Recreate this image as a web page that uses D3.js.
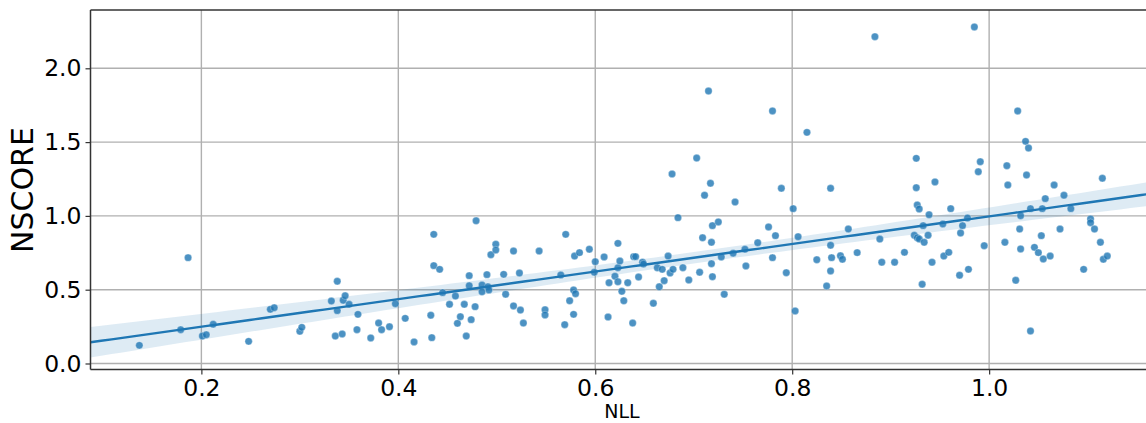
<!DOCTYPE html>
<html>
<head>
<meta charset="utf-8">
<script src="https://cdn.jsdelivr.net/npm/d3@7"></script>
<style>
  body { margin: 0; background: #fff; }
  svg { display: block; font-family: "DejaVu Sans", sans-serif; }
</style>
</head>
<body>
<div id="chart"></div>
<script>
// data
const nll = [
  0.137, 0.1865, 0.179, 0.201, 0.205, 0.212, 0.248, 0.270, 0.274, 0.300,
  0.302, 0.338, 0.332, 0.344, 0.346, 0.338, 0.350, 0.359, 0.336, 0.343,
  0.358, 0.372, 0.380, 0.383, 0.391, 0.397, 0.407, 0.416, 0.436, 0.436,
  0.442, 0.433, 0.434, 0.445, 0.452, 0.458, 0.460, 0.463, 0.467, 0.469,
  0.474, 0.472, 0.472, 0.479, 0.478, 0.485, 0.485, 0.490, 0.491, 0.492,
  0.494, 0.499, 0.499, 0.509, 0.507, 0.517, 0.517, 0.523, 0.524, 0.527,
  0.543, 0.549, 0.549, 0.565, 0.570, 0.569, 0.574, 0.578, 0.580, 0.578,
  0.579, 0.584, 0.594, 0.600, 0.599, 0.609, 0.613, 0.614, 0.620, 0.623,
  0.623, 0.623, 0.625, 0.627, 0.629, 0.633, 0.638, 0.639, 0.641, 0.648,
  0.649, 0.644, 0.659, 0.663, 0.668, 0.665, 0.670, 0.674, 0.676, 0.679,
  0.684, 0.678, 0.715, 0.780, 0.815, 0.703, 0.717, 0.789, 0.839, 0.926,
  0.926, 0.945, 0.884, 0.711, 0.689, 0.695, 0.706, 0.709, 0.718, 0.719,
  0.725, 0.728, 0.718, 0.719, 0.731, 0.740, 0.742, 0.752, 0.753, 0.765,
  0.776, 0.780, 0.783, 0.794, 0.801, 0.803, 0.806, 0.825, 0.835, 0.839,
  0.839, 0.840, 0.849, 0.851, 0.857, 0.866, 0.889, 0.891, 0.904, 0.914,
  0.927, 0.929, 0.939, 0.961, 0.953, 0.933, 0.924, 0.927, 0.929, 0.934,
  0.938, 0.942, 0.932, 0.954, 0.959, 0.970, 0.971, 0.973, 0.978, 0.979,
  0.985, 1.029, 1.037, 1.040, 0.991, 0.989, 1.018, 1.038, 1.019, 1.066,
  1.115, 0.995, 1.016, 1.027, 1.031, 1.032, 1.032, 1.042, 1.042, 1.046,
  1.050, 1.053, 1.054, 1.055, 1.057, 1.062, 1.072, 1.076, 1.083, 1.096,
  1.103, 1.103, 1.107, 1.113, 1.116, 1.120
];
const nscore = [
  0.123, 0.717, 0.229, 0.186, 0.195, 0.266, 0.150, 0.367, 0.378, 0.218,
  0.245, 0.557, 0.423, 0.428, 0.459, 0.358, 0.401, 0.333, 0.186, 0.200,
  0.229, 0.173, 0.274, 0.229, 0.249, 0.405, 0.306, 0.146, 0.875, 0.663,
  0.638, 0.327, 0.175, 0.480, 0.401, 0.457, 0.272, 0.317, 0.401, 0.186,
  0.297, 0.595, 0.527, 0.967, 0.385, 0.532, 0.486, 0.602, 0.520, 0.498,
  0.737, 0.808, 0.769, 0.469, 0.604, 0.762, 0.390, 0.613, 0.362, 0.274,
  0.762, 0.364, 0.329, 0.600, 0.875, 0.263, 0.425, 0.498, 0.473, 0.333,
  0.728, 0.751, 0.774, 0.690, 0.618, 0.722, 0.315, 0.547, 0.591, 0.814,
  0.649, 0.554, 0.694, 0.489, 0.425, 0.547, 0.274, 0.724, 0.724, 0.686,
  0.674, 0.586, 0.408, 0.649, 0.638, 0.520, 0.561, 0.728, 0.613, 0.638,
  0.988, 1.284, 1.846, 1.711, 1.566, 1.392, 1.221, 1.187, 1.187, 1.390,
  1.191, 1.230, 2.214, 1.140, 0.649, 0.566, 0.618, 0.852, 0.821, 0.934,
  0.959, 0.722, 0.676, 0.588, 0.469, 0.747, 1.094, 0.774, 0.661, 0.818,
  0.925, 0.717, 0.866, 0.615, 1.049, 0.356, 0.859, 0.703, 0.525, 0.627,
  0.801, 0.717, 0.730, 0.706, 0.911, 0.751, 0.843, 0.686, 0.686, 0.753,
  1.074, 1.047, 1.008, 1.049, 0.945, 0.934, 0.869, 0.852, 0.843, 0.821,
  0.869, 0.686, 0.537, 0.728, 0.753, 0.598, 0.884, 0.934, 0.986, 0.638,
  2.280, 1.711, 1.505, 1.460, 1.367, 1.299, 1.340, 1.277, 1.209, 1.209,
  1.255, 0.798, 0.821, 0.564, 0.911, 1.001, 0.776, 1.049, 0.220, 0.787,
  0.751, 0.866, 1.049, 0.708, 1.117, 0.728, 0.911, 1.140, 1.049, 0.638,
  0.979, 0.954, 0.911, 0.821, 0.706, 0.728
];
const xTicks = [0.2, 0.4, 0.6, 0.8, 1.0];
const yTicks = [0.0, 0.5, 1.0, 1.5, 2.0];

const W = 1146, H = 423;
const m = {left: 90.5, top: 10, bottom: 369.5, right: 1152};
const blue = "#1f77b4";

const svg = d3.select("#chart").append("svg")
  .attr("width", W).attr("height", H);

const x = d3.scaleLinear().domain([0.0874, 1.1654]).range([m.left, m.right]);
const y = d3.scaleLinear().domain([-0.0407, 2.395]).range([m.bottom, m.top]);

// grid
svg.append("g").selectAll("line").data(xTicks).join("line")
  .attr("x1", d => x(d)).attr("x2", d => x(d))
  .attr("y1", m.top).attr("y2", m.bottom)
  .attr("stroke", "#b0b0b0").attr("stroke-width", 1.4);
svg.append("g").selectAll("line").data(yTicks).join("line")
  .attr("x1", m.left).attr("x2", m.right)
  .attr("y1", d => y(d)).attr("y2", d => y(d))
  .attr("stroke", "#b0b0b0").attr("stroke-width", 1.4);

// regression fit + 95% CI (analytic)
const pts = nll.map((v, i) => ({x: v, y: nscore[i]}));
const n = pts.length;
const mx = d3.mean(nll), my = d3.mean(nscore);
const sxx = d3.sum(nll, v => (v - mx) ** 2);
const sxy = d3.sum(pts, p => (p.x - mx) * (p.y - my));
const slope = sxy / sxx, icpt = my - slope * mx;
const s = Math.sqrt(d3.sum(pts, p => (p.y - icpt - slope * p.x) ** 2) / (n - 2));
const xs = d3.range(0, 101).map(i => x.domain()[0] + (x.domain()[1] - x.domain()[0]) * i / 100);
const band = xs.map(g => {
  const f = icpt + slope * g;
  const e = 1.972 * s * Math.sqrt(1 / n + (g - mx) ** 2 / sxx);
  return {x: g, lo: f - e, hi: f + e, f};
});

const plot = svg.append("g");
plot.append("path").datum(band)
  .attr("fill", blue).attr("fill-opacity", 0.15)
  .attr("d", d3.area().x(d => x(d.x)).y0(d => y(d.lo)).y1(d => y(d.hi)));

plot.selectAll("circle").data(pts).join("circle")
  .attr("cx", d => x(d.x)).attr("cy", d => y(d.y))
  .attr("r", 3.7)
  .attr("fill", blue).attr("fill-opacity", 0.8)
  .attr("stroke", "#fff").attr("stroke-opacity", 0.6).attr("stroke-width", 0.5);

plot.append("path").datum(band)
  .attr("fill", "none").attr("stroke", blue).attr("stroke-width", 2.4)
  .attr("d", d3.line().x(d => x(d.x)).y(d => y(d.f)));

// spines
svg.append("line").attr("x1", m.left).attr("x2", m.left).attr("y1", m.top).attr("y2", m.bottom)
  .attr("stroke", "#333").attr("stroke-width", 1.5);
svg.append("line").attr("x1", m.left).attr("x2", m.right).attr("y1", m.top).attr("y2", m.top)
  .attr("stroke", "#333").attr("stroke-width", 1.5);
svg.append("line").attr("x1", m.left).attr("x2", m.right).attr("y1", m.bottom).attr("y2", m.bottom)
  .attr("stroke", "#333").attr("stroke-width", 1.5);

// axes
const xAxis = svg.append("g").attr("transform", `translate(0,${m.bottom})`)
  .call(d3.axisBottom(x).tickValues(xTicks).tickFormat(d3.format(".1f")).tickSize(5).tickPadding(5));
const yAxis = svg.append("g").attr("transform", `translate(${m.left},0)`)
  .call(d3.axisLeft(y).tickValues(yTicks).tickFormat(d3.format(".1f")).tickSize(5).tickPadding(4));
[xAxis, yAxis].forEach(a => {
  a.select(".domain").remove();
  a.selectAll(".tick line").attr("stroke", "#333").attr("stroke-width", 1.2);
  a.selectAll("text").attr("font-size", 23.5).attr("font-family", "DejaVu Sans").attr("fill", "#000");
});

svg.append("text").attr("x", 622).attr("y", 418)
  .attr("text-anchor", "middle").attr("font-size", 19).text("NLL");
svg.append("text").attr("transform", "translate(33,190) rotate(-90)")
  .attr("text-anchor", "middle").attr("font-size", 30).text("NSCORE");
</script>
</body>
</html>
